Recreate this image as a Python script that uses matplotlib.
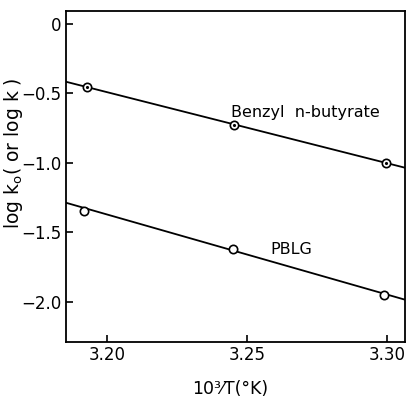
import matplotlib
matplotlib.use("Agg")
import matplotlib.pyplot as plt

# data
inv_t = [3.1930, 3.2455, 3.2995]
benzyl = [-0.455, -0.725, -1.0]
pblg_x = [3.1918, 3.2450, 3.2990]
pblg = [-1.345, -1.62, -1.955]

# fitted lines, endpoints at the frame edges
fit_x = [3.1854, 3.3064]
benzyl_fit = [-0.417, -1.036]
pblg_fit = [-1.288, -1.986]

x_ticks = [3.20, 3.25, 3.30]
y_ticks = [0, -0.5, -1.0, -1.5, -2.0]

plt.rcParams["font.family"] = ["DejaVu Sans"]

fig = plt.figure(figsize=(4.10, 3.99), dpi=100)
ax = fig.add_axes([0.161, 0.143, 0.827, 0.830])

ax.plot(fit_x, benzyl_fit, color="black", lw=1.3)
ax.plot(fit_x, pblg_fit, color="black", lw=1.3)

ax.plot(inv_t, benzyl, "o", ms=6, mfc="white", mec="black", mew=1.2)
ax.plot(inv_t, benzyl, ".", ms=2.5, color="black")
ax.plot(pblg_x, pblg, "o", ms=6, mfc="white", mec="black", mew=1.2)

ax.text(3.2708, -0.64, "Benzyl  n-butyrate", fontsize=11.5, ha="center", va="center")
ax.text(3.2658, -1.626, "PBLG", fontsize=11.5, ha="center", va="center")

ax.set_xlim(3.1854, 3.3064)
ax.set_ylim(-2.29, 0.094)
ax.set_xticks(x_ticks)
ax.set_xticklabels(["3.20", "3.25", "3.30"])
ax.set_yticks(y_ticks)
ax.set_yticklabels(["0", "\u22120.5", "\u22121.0", "\u22121.5", "\u22122.0"])
ax.tick_params(direction="in", length=5, width=1.2, labelsize=12, pad=3)
for s in ax.spines.values():
    s.set_linewidth(1.3)

ax.set_xlabel("10\u00b3\u2044T(\u00b0K)", fontsize=12.5)
ax.xaxis.set_label_coords(0.484, -0.115)
ax.set_ylabel(r"log k$_\mathrm{o}$( or log k )", fontsize=13.5)
ax.yaxis.set_label_coords(-0.122, 0.571)

fig.savefig("out.png", dpi=100)
